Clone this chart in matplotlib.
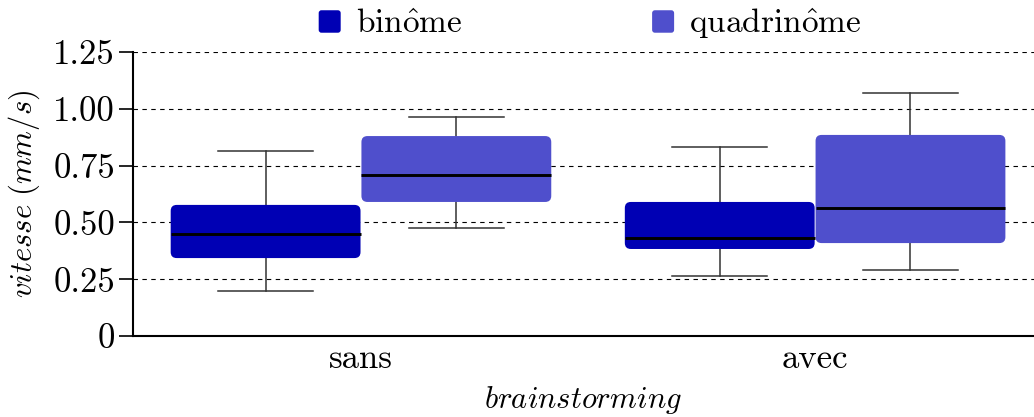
import matplotlib
matplotlib.use("Agg")
import matplotlib.pyplot as plt
from matplotlib.patches import FancyBboxPatch
from matplotlib.legend_handler import HandlerPatch
from matplotlib.patches import Patch

plt.rcParams['font.family'] = 'cmr10'
plt.rcParams['mathtext.fontset'] = 'cm'
plt.rcParams['axes.unicode_minus'] = False
plt.rcParams['axes.formatter.use_mathtext'] = True

# data
groups = ['sans', 'avec']
series = [r'$\mathrm{bin\hat{o}me}$', r'$\mathrm{quadrin\hat{o}me}$']
colors = ['#0000b4', '#4f4fcc']
# per series, per group: whislo, q1, med, q3, whishi
binome_stats = [(0.198, 0.343, 0.449, 0.577, 0.814),
                (0.264, 0.383, 0.431, 0.590, 0.832)]
quadri_stats = [(0.475, 0.590, 0.709, 0.880, 0.964),
                (0.290, 0.409, 0.563, 0.885, 1.070)]
yticks = [0, 0.25, 0.5, 0.75, 1.0, 1.25]
ytick_labels = ['0', '0.25', '0.50', '0.75', '1.00', '1.25']

W, H = 1034, 417
fig = plt.figure(figsize=(W / 100, H / 100), dpi=100)
ax = fig.add_axes([133 / W, (417 - 336) / H, 1 - 133 / W, 284 / H])

xlim = (-0.502, 1.482)
box_w = 0.418
offsets = [-0.21, 0.21]
fs = 25
fs_lab = 22

# pixel per unit ratio for round corners
px_x = (W - 133) / (xlim[1] - xlim[0])
px_y = 284 / 1.25
r_px = 6

for si, stats_list in enumerate([binome_stats, quadri_stats]):
    stats = []
    pos = []
    for gi, (lo, q1, med, q3, hi) in enumerate(stats_list):
        stats.append(dict(whislo=lo, q1=q1, med=med, q3=q3, whishi=hi, fliers=[]))
        pos.append(gi + offsets[si])
    ax.bxp(stats, positions=pos, widths=box_w, showbox=False, showfliers=False,
           whiskerprops=dict(color='#333333', lw=1.1),
           capprops=dict(color='#333333', lw=1.1),
           medianprops=dict(color='black', lw=2.1, zorder=4),
           capwidths=box_w / 2, manage_ticks=False)
    for p, st in zip(pos, stats):
        box = FancyBboxPatch((p - box_w / 2, st['q1']), box_w, st['q3'] - st['q1'],
                             boxstyle=f"round,pad=0,rounding_size={r_px / px_x}",
                             mutation_aspect=px_x / px_y,
                             facecolor=colors[si], edgecolor='none', zorder=3)
        ax.add_patch(box)

ax.set_xlim(*xlim)
ax.set_ylim(0, 1.25)
ax.set_xticks(range(len(groups)))
ax.set_xticklabels(groups, fontsize=fs)
ax.tick_params(axis='x', length=0, pad=5)
ax.set_yticks(yticks)
ax.set_yticklabels(ytick_labels, fontsize=fs)
ax.tick_params(axis='y', length=10, width=1.2, direction='out', pad=3)

ax.grid(axis='y', color='black', lw=0.8, linestyle=(0, (4, 4)))
ax.set_axisbelow(True)
for s in ['top', 'right']:
    ax.spines[s].set_visible(False)
for s in ['left', 'bottom']:
    ax.spines[s].set_linewidth(1.5)

ax.set_ylabel(r'$vitesse\ (mm/s)$', fontsize=fs_lab, labelpad=8)
ax.set_xlabel(r'$brainstorming$', fontsize=fs_lab, labelpad=7)


class RoundHandler(HandlerPatch):
    def create_artists(self, legend, orig_handle, xdescent, ydescent,
                       width, height, fontsize, trans):
        p = FancyBboxPatch((-xdescent, -ydescent), width, height,
                           boxstyle="round,pad=0,rounding_size=2",
                           facecolor=orig_handle.get_facecolor(),
                           edgecolor='none', transform=trans)
        return [p]


handles = [Patch(facecolor=c) for c in colors]
fig.legend(handles, series, loc='center', bbox_to_anchor=(590 / W, 1 - 24 / H),
           ncol=2, frameon=False, fontsize=24, handlelength=0.66, handleheight=0.66,
           handletextpad=0.45, columnspacing=5.7,
           handler_map={Patch: RoundHandler()})

fig.savefig('out.png', dpi=100)
